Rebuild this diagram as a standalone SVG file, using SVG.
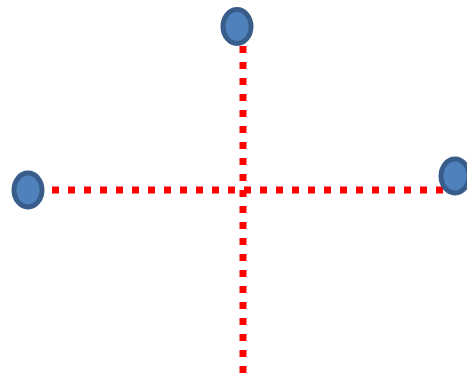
<svg xmlns="http://www.w3.org/2000/svg" width="467" height="376" viewBox="0 0 467 376">
<style>
.node{fill:#4f81bd;stroke:#385d8a;stroke-width:5}
.conn{stroke:#ff0000;stroke-width:7;stroke-dasharray:7 9;fill:none}
</style>
<rect width="467" height="376" fill="#ffffff"/>
<g id="connectors">
<line class="conn" x1="52" y1="190" x2="446" y2="190"/>
<line class="conn" x1="243" y1="46" x2="243" y2="376"/>
</g>
<g id="node-top"><ellipse class="node" cx="237" cy="26.5" rx="14" ry="17"/></g>
<g id="node-left"><ellipse class="node" cx="28" cy="190" rx="14" ry="17"/></g>
<g id="node-right"><ellipse class="node" cx="455" cy="176" rx="14" ry="17"/></g>
</svg>
